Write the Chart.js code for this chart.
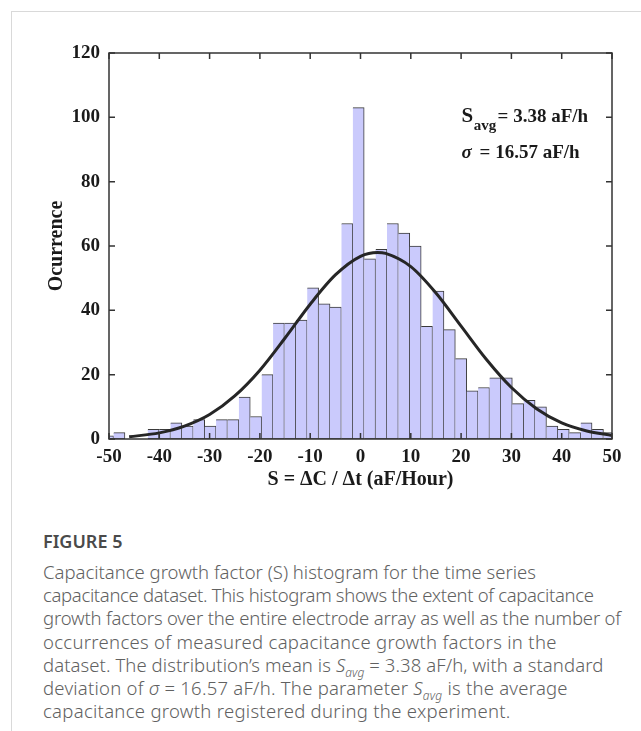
<!DOCTYPE html>
<html>
<head>
<meta charset="utf-8">
<script src="https://cdn.jsdelivr.net/npm/chart.js@4.4.1/dist/chart.umd.min.js"></script>
<style>
  html, body { margin: 0; padding: 0; background: #fff; }
  body { width: 641px; height: 731px; position: relative; overflow: hidden; }
  .frame { position: absolute; left: 11px; top: 11px; width: 700px; height: 800px;
           border-left: 1.5px solid #d9d9d9; border-top: 1.5px solid #d9d9d9; }
  #wrap { position: absolute; left: 0; top: 0; width: 641px; height: 510px; }
  .caption { position: absolute; left: 43px; top: 528px; font-family: "Noto Sans", sans-serif;
             color: #616161; font-size: 18.5px; font-weight: 300; line-height: 23.2px; white-space: nowrap; }
  .caption .fig { font-size: 18px; line-height: 26px; font-weight: 600; color: #4a4a4a; margin-bottom: 6px; }
  .caption sub { font-size: 12px; line-height: 0; }
  .l2 { letter-spacing: -0.33px; }
  .l3 { letter-spacing: -0.18px; }
  .l4 { letter-spacing: 0.3px; }
  .l5 { letter-spacing: 0.08px; }
  .l6 { letter-spacing: 0.24px; }
  .l7 { letter-spacing: 0.29px; }
</style>
</head>
<body>
<div class="frame"></div>
<div id="wrap"><canvas id="chart" width="641" height="510"></canvas></div>
<div class="caption">
  <div class="fig">FIGURE 5</div>
  <span>Capacitance growth factor (S) histogram for the time series</span><br>
  <span class="l2">capacitance dataset. This histogram shows the extent of capacitance</span><br>
  <span class="l3">growth factors over the entire electrode array as well as the number of</span><br>
  <span class="l4">occurrences of measured capacitance growth factors in the</span><br>
  <span class="l5">dataset. The distribution’s mean is <i>S<sub>avg</sub></i> = 3.38 aF/h, with a standard</span><br>
  <span class="l6">deviation of <i>σ</i> = 16.57 aF/h. The parameter <i>S<sub>avg</sub></i> is the average</span><br>
  <span class="l7">capacitance growth registered during the experiment.</span>
</div>
<script>
// histogram bins (centre of each bin, aF/h) and counts
const binCenters = [-50.23, -47.96, -45.70, -43.43, -41.17, -38.90, -36.64, -34.37, -32.11,
  -29.84, -27.58, -25.31, -23.05, -20.78, -18.52, -16.25, -13.99, -11.72, -9.46, -7.19,
  -4.93, -2.66, -0.40, 1.87, 4.13, 6.40, 8.66, 10.93, 13.19, 15.46, 17.72, 19.99, 22.25,
  24.52, 26.78, 29.05, 31.31, 33.58, 35.84, 38.11, 40.37, 42.64, 44.90, 47.17, 49.43];
const counts = [1, 2, 0, 0, 3, 3, 5, 4, 6, 4, 6, 6, 13, 7, 20, 36, 36, 37, 47, 42, 41, 67, 103,
  56, 59, 67, 64, 60, 35, 46, 34, 25, 15, 16, 19, 19, 11, 12, 10, 4, 3, 2, 5, 3, 2];

// fitted normal curve
const fitX = [-46, -40, -35, -30, -25, -20, -15, -10, -5, 0, 3.4, 5, 10, 15, 20, 25, 30, 35, 40, 45, 50];
const fitY = [0.7, 1.9, 4.0, 7.6, 13.4, 21.4, 31.4, 41.9, 51.0, 56.8, 58.0, 57.7, 53.6, 45.4,
  35.1, 24.8, 16.0, 9.4, 5.0, 2.5, 1.1];

const xMin = -50, xMax = 50, xStep = 10;
const yMin = 0, yMax = 120, yStep = 20;

const serif = '"Liberation Serif", "Times New Roman", serif';
const ink = '#1a1a1a';

// box round the plot, inward ticks on all sides, and the stats note
const framePlugin = {
  id: 'frame',
  afterDatasetsDraw(chart) {
    const { ctx, chartArea: a, scales: { x, y } } = chart;
    ctx.save();
    ctx.strokeStyle = '#333';
    ctx.lineWidth = 1.5;
    ctx.strokeRect(a.left, a.top, a.right - a.left, a.bottom - a.top);
    ctx.beginPath();
    x.ticks.forEach(t => {
      const px = x.getPixelForValue(t.value);
      ctx.moveTo(px, a.bottom); ctx.lineTo(px, a.bottom - 6);
      ctx.moveTo(px, a.top); ctx.lineTo(px, a.top + 6);
    });
    y.ticks.forEach(t => {
      const py = y.getPixelForValue(t.value);
      ctx.moveTo(a.left, py); ctx.lineTo(a.left + 6, py);
      ctx.moveTo(a.right, py); ctx.lineTo(a.right - 6, py);
    });
    ctx.stroke();

    const x0 = x.getPixelForValue(20.1);
    const b1 = y.getPixelForValue(98.6);
    const b2 = y.getPixelForValue(87.5);
    ctx.fillStyle = ink;
    ctx.textBaseline = 'alphabetic';
    ctx.font = 'bold 21px ' + serif;
    ctx.fillText('S', x0, b1);
    const sw = ctx.measureText('S').width;
    ctx.font = 'bold 15px ' + serif;
    ctx.fillText('avg', x0 + sw + 0.5, b1 + 8);
    ctx.font = 'bold 19px ' + serif;
    ctx.fillText('= 3.38 aF/h', x0 + 36, b1);
    ctx.font = 'italic bold 19px ' + serif;
    ctx.fillText('σ', x0, b2);
    ctx.font = 'bold 19px ' + serif;
    ctx.fillText('= 16.57 aF/h', x0 + 18, b2);
    ctx.restore();
  }
};

new Chart(document.getElementById('chart'), {
  type: 'bar',
  data: {
    datasets: [
      {
        type: 'line',
        data: fitX.map((v, i) => ({ x: v, y: fitY[i] })),
        borderColor: '#262626',
        borderWidth: 3,
        pointRadius: 0,
        cubicInterpolationMode: 'monotone',
        fill: false,
        order: 0
      },
      {
        type: 'bar',
        data: binCenters.map((v, i) => ({ x: v, y: counts[i] })),
        backgroundColor: 'rgb(202, 202, 252)',
        borderColor: '#3a3a3a',
        borderWidth: 1,
        borderSkipped: 'left',
        barPercentage: 1,
        categoryPercentage: 1,
        order: 1
      }
    ]
  },
  options: {
    responsive: false,
    animation: false,
    events: [],
    layout: { padding: { left: 0, top: 53, right: 29, bottom: 11 } },
    plugins: { legend: { display: false }, tooltip: { enabled: false } },
    scales: {
      x: {
        type: 'linear',
        min: xMin, max: xMax,
        offset: false,
        grid: { display: false, drawTicks: false, offset: false },
        border: { display: false },
        ticks: { stepSize: xStep, padding: 7, maxRotation: 0, color: ink,
                 font: { family: serif, size: 19, weight: 'bold' } },
        title: { display: true, text: 'S = ΔC / Δt (aF/Hour)', color: ink, padding: { top: 0, bottom: 7 },
                 font: { family: serif, size: 20, weight: 'bold' } },
        afterFit: s => { s.height = 60; }
      },
      y: {
        min: yMin, max: yMax,
        grid: { display: false, drawTicks: false },
        border: { display: false },
        ticks: { stepSize: yStep, padding: 9, color: ink,
                 font: { family: serif, size: 19, weight: 'bold' } },
        title: { display: true, text: 'Ocurrence', color: ink, padding: { top: 45, bottom: 0 },
                 font: { family: serif, size: 20, weight: 'bold' } },
        afterFit: s => { s.width = 109; }
      }
    }
  },
  plugins: [framePlugin]
});
</script>
</body>
</html>
